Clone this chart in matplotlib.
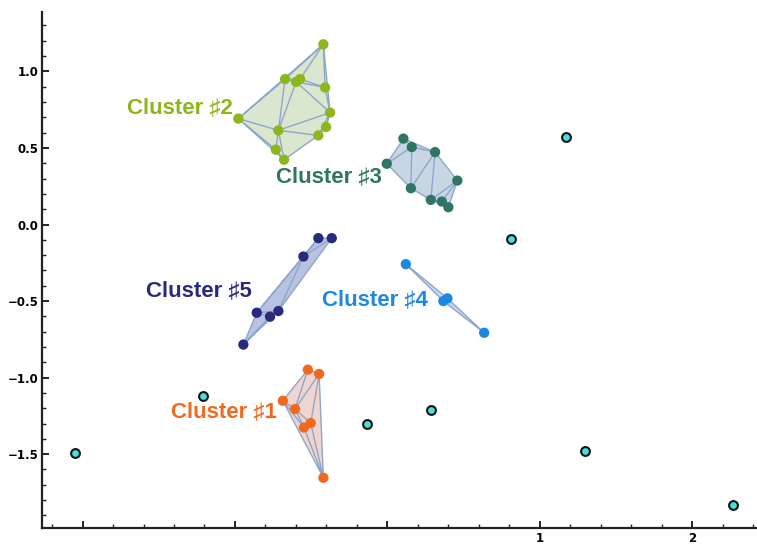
import numpy as np
import matplotlib
matplotlib.use("Agg")
import matplotlib.pyplot as plt
import matplotlib.tri as mtri
from matplotlib.ticker import MultipleLocator, FixedLocator

# ---- data ----
c1_x = [-0.522, -0.448, -0.686, -0.606, -0.503, -0.547, -0.420]
c1_y = [-0.948, -0.976, -1.151, -1.205, -1.297, -1.326, -1.654]

c2_x = [-0.420, -0.671, -0.599, -0.573, -0.409, -0.376, -0.978, -0.715,
        -0.402, -0.453, -0.732, -0.678]
c2_y = [1.177, 0.950, 0.932, 0.950, 0.895, 0.731, 0.692, 0.615,
        0.637, 0.582, 0.489, 0.423]

c3_x = [0.105, 0.160, 0.313, -0.004, 0.459, 0.154, 0.285, 0.357, 0.400]
c3_y = [0.561, 0.506, 0.473, 0.397, 0.287, 0.237, 0.161, 0.150, 0.113]

c4_x = [0.121, 0.367, 0.394, 0.635]
c4_y = [-0.259, -0.500, -0.482, -0.707]

c5_x = [-0.453, -0.365, -0.551, -0.857, -0.770, -0.715, -0.945]
c5_y = [-0.089, -0.089, -0.209, -0.576, -0.602, -0.565, -0.784]

noise_x = [-2.049, -1.209, -0.133, 0.287, 0.812, 1.171, 1.297, 2.268]
noise_y = [-1.492, -1.118, -1.302, -1.210, -0.095, 0.574, -1.479, -1.833]

names = ["Cluster \u266F1", "Cluster \u266F2", "Cluster \u266F3",
         "Cluster \u266F4", "Cluster \u266F5"]
label_x = [-1.070, -1.360, -0.383, -0.081, -1.236]
label_y = [-1.223, 0.764, 0.311, -0.489, -0.432]

# ---- styling ----
point_colors = ["#f0691c", "#8db51c", "#2e7563", "#1c88e2", "#2a2a7c"]
fill_colors = ["#eed6cf", "#dbe6cf", "#c7d6e2", "#c6d6ef", "#b8c2e2"]
EDGE = "#8fa6cc"

clusters = [(c1_x, c1_y), (c2_x, c2_y), (c3_x, c3_y), (c4_x, c4_y), (c5_x, c5_y)]

fig = plt.figure(figsize=(7.57, 5.44), dpi=100)
ax = fig.add_axes([0.0559, 0.030, 0.9441, 0.9485])

for (cx, cy), pc, fc in zip(clusters, point_colors, fill_colors):
    cx = np.array(cx)
    cy = np.array(cy)
    tri = mtri.Triangulation(cx, cy)
    for t in tri.triangles:
        ax.fill(cx[t], cy[t], color=fc, lw=0, zorder=1)
    ax.triplot(tri, color=EDGE, lw=1.0, zorder=2)
    ax.scatter(cx, cy, s=55, color=pc, edgecolors="none", zorder=3)

ax.scatter(noise_x, noise_y, s=40, color="#40e3e3", edgecolors="#111111",
           linewidths=1.5, zorder=3)

for name, lx, ly, pc in zip(names, label_x, label_y, point_colors):
    ax.text(lx, ly, name, color=pc, fontsize=16, fontweight="bold",
            family=["Liberation Sans", "DejaVu Sans"],
            ha="center", va="center", zorder=4)

ax.set_xlim(-2.264, 2.425)
ax.set_ylim(-1.98, 1.39)

for side in ["top", "right"]:
    ax.spines[side].set_visible(False)
for side in ["left", "bottom"]:
    ax.spines[side].set_linewidth(1.6)
    ax.spines[side].set_color("#222222")

ax.xaxis.set_major_locator(FixedLocator([-2, -1, 0, 1, 2]))
ax.set_xticklabels(["", "", "", "1", "2"])
ax.xaxis.set_minor_locator(MultipleLocator(0.2))
ax.yaxis.set_major_locator(FixedLocator([-1.5, -1.0, -0.5, 0.0, 0.5, 1.0]))
ax.set_yticklabels(["\u22121.5", "\u22121.0", "\u22120.5", "0.0", "0.5", "1.0"])
ax.yaxis.set_minor_locator(MultipleLocator(0.1))

ax.tick_params(which="both", direction="in", color="#222222")
ax.tick_params(which="major", length=5, width=1.4, labelsize=8.5, pad=3)
ax.tick_params(which="minor", length=3, width=1.0)
for lab in ax.get_xticklabels() + ax.get_yticklabels():
    lab.set_fontweight("bold")

fig.savefig("out.png", dpi=100)
